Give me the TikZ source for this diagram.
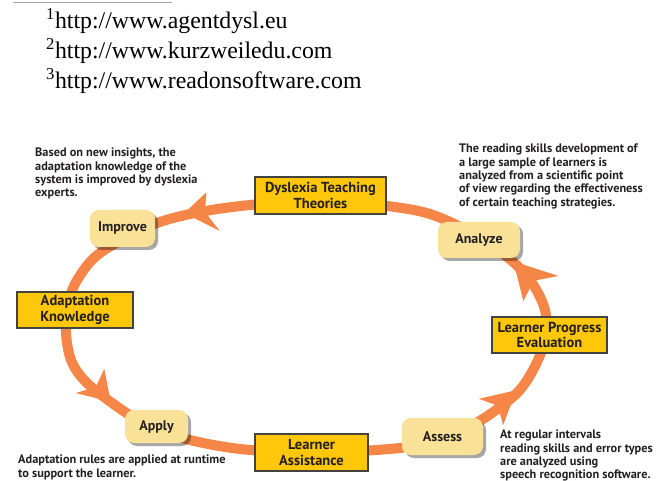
\documentclass[tikz,border=0pt]{standalone}
\usepackage{fontspec}
\setmainfont{Liberation Serif}
\newfontfamily\labelfont{PT Sans}
\usetikzlibrary{shadows}
\definecolor{loopc}{RGB}{245,134,72}
\definecolor{boxyellow}{RGB}{255,199,10}
\definecolor{paleyellow}{RGB}{249,226,152}
\definecolor{ink}{RGB}{35,31,32}
\begin{document}
\begin{tikzpicture}[x=1pt,y=-1pt,
  rectbox/.style={draw=ink!85, line width=1.1pt, fill=boxyellow, text=ink,
    font=\labelfont\bfseries\fontsize{14.5}{15.5}\selectfont, align=center, inner sep=0pt},
  roundbox/.style={fill=paleyellow, rounded corners=9pt, text=ink,
    font=\labelfont\bfseries\fontsize{14}{16}\selectfont, inner sep=0pt,
    drop shadow={shadow xshift=3pt, shadow yshift=-3pt, fill=black, opacity=0.35}},
  desc/.style={anchor=north west, align=left, text=ink,
    font=\labelfont\bfseries\fontsize{12.3}{13.3}\selectfont, inner sep=0pt},
  foot/.style={anchor=base west, inner sep=0pt, font=\fontsize{23.8}{28}\selectfont, text=black},
  flow/.style={draw=loopc, line width=10pt},
  head/.style={fill=loopc}
]
\useasboundingbox (0,0) rectangle (662,481);

% footnotes
\coordinate (r1) at (13,2);
\coordinate (r2) at (172,2);
\draw[gray!70, line width=0.8pt] (r1) -- (r2);
\node[foot] (f1) at (46,29) {\textsuperscript{1}http://www.agentdysl.eu};
\node[foot] (f2) at (46,59) {\textsuperscript{2}http://www.kurzweiledu.com};
\node[foot] (f3) at (46,89) {\textsuperscript{3}http://www.readonsoftware.com};

% loop
\draw[flow] plot[smooth cycle, tension=0.55] coordinates {
  (320,200) (387,206) (430,214) (470,232) (505,255) (530,280) (545,310)
  (545,340) (533,370) (515,395) (478,422) (440,440) (400,448) (330,452)
  (250,450) (190,440) (145,424) (108,400) (84,380) (71,360) (66,333)
  (68,305) (76,282) (95,257) (125,238) (160,222) (200,212) (250,205)};

% arrowheads
\fill[head] (184.3,213.2) -- (206.4,192.2) -- (205,212) -- (219.6,230.8) -- cycle;
\fill[head] (110.7,401.7) -- (75.7,393.1) -- (95.8,386.8) -- (104.3,368.9) -- cycle;
\fill[head] (516.3,390.2) -- (478.9,398.8) -- (498.1,405.9) -- (503.1,425.2) -- cycle;
\fill[head] (513.4,261.5) -- (523.4,301.2) -- (533.3,280.9) -- (558.6,275.9) -- cycle;

% rectangular boxes
\node[rectbox, minimum width=131pt, minimum height=37pt] (dtt) at (320.5,195.5) {Dyslexia Teaching\\Theories};
\node[rectbox, minimum width=116pt, minimum height=36pt] (ak) at (75,310) {Adaptation\\Knowledge};
\node[rectbox, minimum width=113pt, minimum height=37pt] (la) at (311.5,452.5) {Learner\\Assistance};
\node[rectbox, minimum width=115pt, minimum height=36pt] (lpe) at (549.5,335) {Learner Progress\\Evaluation};

% rounded boxes
\node[roundbox, minimum width=65pt, minimum height=37pt] (improve) at (122.5,228.5) {Improve};
\node[roundbox, minimum width=82pt, minimum height=36pt] (analyze) at (479,240) {Analyze};
\node[roundbox, minimum width=63pt, minimum height=33pt] (apply) at (156.5,426.5) {Apply};
\node[roundbox, minimum width=81pt, minimum height=37pt] (assess) at (442.5,436.5) {Assess};

% descriptions
\node[desc] (t1) at (35,148) {Based on new insights, the\\adaptation knowledge of the\\system is improved by dyslexia\\experts.};
\node[desc] (t2) at (459,144) {The reading skills development of\\a large sample of learners is\\analyzed from a scientific point\\of view regarding the effectiveness\\of certain teaching strategies.};
\node[desc] (t3) at (18,455) {Adaptation rules are applied at runtime\\to support the learner.};
\node[desc] (t4) at (500,430) {At regular intervals\\reading skills and error types\\are analyzed using\\speech recognition software.};
\end{tikzpicture}
\end{document}
